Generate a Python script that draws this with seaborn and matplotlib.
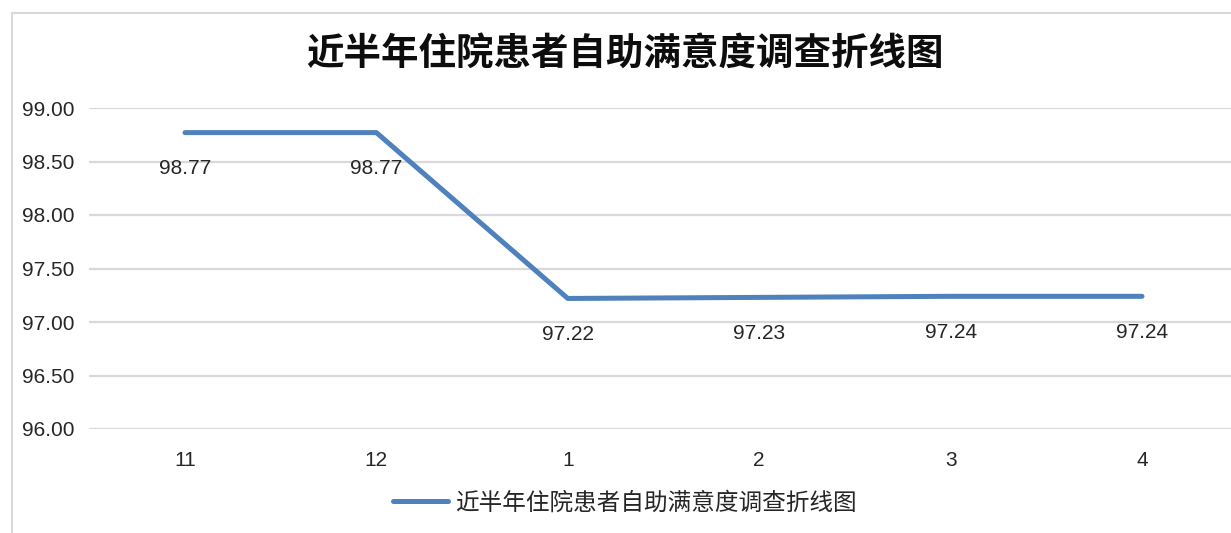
import matplotlib
matplotlib.use("Agg")
import matplotlib.pyplot as plt
import seaborn as sns
import pandas as pd
from matplotlib.lines import Line2D

months = ["11", "12", "1", "2", "3", "4"]
values = [98.77, 98.77, 97.22, 97.23, 97.24, 97.24]
series_name = "近半年住院患者自助满意度调查折线图"
title = "近半年住院患者自助满意度调查折线图"
yticks = [96.0, 96.5, 97.0, 97.5, 98.0, 98.5, 99.0]

sns.set_theme(style="white")
plt.rcParams['font.family'] = ['Liberation Sans', 'Noto Sans CJK SC', 'DejaVu Sans']

W, H = 1231, 533
fig = plt.figure(figsize=(W / 100, H / 100), dpi=100)
fig.patch.set_facecolor("white")

left = 89.3 / W
right = (185 + 5 * 191.4 + 95.7) / W
bottom = (H - 429) / H
top = (H - 108) / H
ax = fig.add_axes([left, bottom, right - left, top - bottom])

df = pd.DataFrame({"month": months, "value": values, "series": series_name})
df["idx"] = range(len(months))
color = "#4F81BD"
sns.lineplot(data=df, x="idx", y="value", hue="series", palette=[color],
             linewidth=3.6, ax=ax, solid_capstyle="round")

ax.set_xlim(-0.5, len(months) - 0.5)
ax.set_ylim(96, 99)
ax.set_yticks(yticks)
ax.set_yticklabels([f"{v:.2f}" for v in yticks])
ax.set_xticks(range(len(months)))
ax.set_xticklabels(months)
ax.set_xlabel("")
ax.set_ylabel("")
ax.tick_params(axis="y", length=0, pad=10.5, labelsize=15, labelcolor="#262626")
ax.tick_params(axis="x", length=0, pad=16, labelsize=15, labelcolor="#262626")
for s in ax.spines.values():
    s.set_visible(False)
ax.grid(axis="y", color="#D9D9D9", linewidth=1.6)
ax.grid(axis="x", visible=False)
ax.set_axisbelow(True)

for i, v in enumerate(values):
    ax.annotate(f"{v:.2f}", (i, v), xytext=(0, -26), textcoords="offset points",
                ha="center", va="center", fontsize=15, color="#262626")

ax.get_legend().remove()
handle = Line2D([0], [0], color=color, linewidth=3.6, solid_capstyle="round")
fig.legend([handle], [series_name], loc="center",
           bbox_to_anchor=(625 / W, 1 - 503 / H), frameon=False,
           prop={"family": ["Noto Sans CJK SC"], "size": 17},
           handlelength=2.3, handletextpad=0.3, labelcolor="#262626")

fig.text(625 / W, 1 - 54 / H, title, ha="center", va="center",
         fontsize=27, fontweight="bold", family=["Noto Sans CJK SC"], color="#0D0D0D")

# outer chart frame (cropped)
fx = 12 / W
fy = 1 - 13 / H
fig.add_artist(Line2D([fx, fx], [0, fy], transform=fig.transFigure, color="#D9D9D9", linewidth=1.5))
fig.add_artist(Line2D([fx, 1], [fy, fy], transform=fig.transFigure, color="#D9D9D9", linewidth=1.5))

fig.savefig("out.png", dpi=100, facecolor="white")
